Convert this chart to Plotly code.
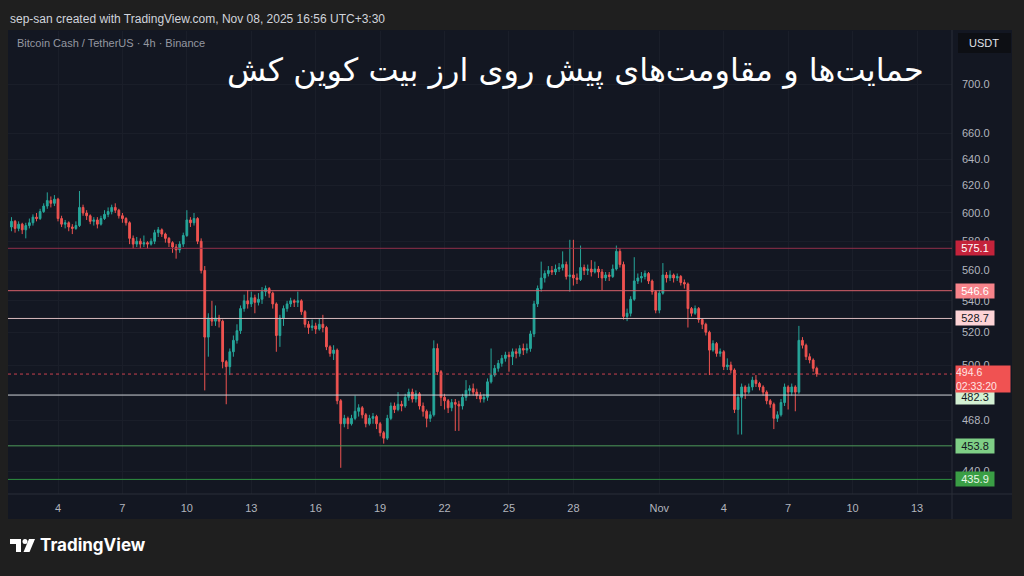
import math
import pandas as pd
import plotly.graph_objects as go

# ---------------- data (BCH/USDT, 4h candles) ----------------
times = pd.date_range("2025-10-01 20:00", periods=226, freq="4h")

first_open = 590
close = [
    594, 589, 592, 588, 591, 593, 597, 596, 601, 605,
    609, 607, 610, 596, 592, 593, 590, 589, 591, 604,
    600, 598, 594, 595, 592, 596, 599, 601, 604, 602,
    598, 596, 593, 582, 578, 580, 578, 579, 578, 580,
    586, 588, 585, 582, 579, 576, 574, 578, 584, 595,
    593, 596, 580, 560, 517, 529, 527, 529, 527, 502,
    499, 508, 515, 521, 535, 540, 538, 542, 539, 541,
    546, 548, 545, 538, 518, 529, 535, 538, 540, 539,
    540, 533, 525, 523, 524, 522, 525, 523, 511, 507,
    509, 479, 466, 469, 466, 469, 473, 475, 471, 466,
    469, 470, 466, 461, 458, 469, 476, 474, 477, 476,
    481, 484, 480, 483, 476, 473, 469, 471, 510, 496,
    481, 479, 475, 478, 477, 476, 481, 485, 486, 484,
    482, 480, 481, 490, 494, 498, 501, 504, 506, 505,
    508, 507, 510, 509, 510, 519, 538, 548, 555, 558,
    560, 559, 561, 562, 564, 556, 557, 555, 554, 562,
    560, 561, 559, 561, 559, 555, 557, 556, 561, 573,
    564, 530, 532, 541, 553, 555, 556, 558, 553, 546,
    534, 545, 557, 555, 557, 555, 556, 552, 551, 535,
    532, 535, 528, 525, 520, 509, 513, 507, 508, 499,
    500, 497, 474, 481, 487, 484, 487, 491, 489, 487,
    484, 479, 477, 469, 471, 478, 487, 484, 487, 484,
    515, 512, 505, 503, 498, 494.6,
]
high = [
    597, 595, 594, 593, 593, 596, 599, 600, 603, 607,
    615, 612, 613, 611, 598, 595, 594, 592, 594, 616,
    606, 602, 599, 597, 597, 598, 602, 604, 606, 607,
    603, 600, 597, 594, 584, 583, 582, 584, 580, 582,
    588, 590, 589, 586, 583, 580, 578, 580, 586, 602,
    597, 600, 597, 582, 563, 532, 540, 537, 531, 528,
    503, 510, 518, 525, 537, 544, 547, 546, 544, 545,
    549, 550, 549, 546, 539, 531, 537, 540, 542, 541,
    546, 541, 534, 527, 528, 526, 529, 531, 524, 512,
    512, 510, 480, 471, 470, 471, 482, 477, 476, 472,
    471, 472, 471, 467, 462, 471, 478, 478, 484, 479,
    483, 486, 486, 485, 484, 478, 474, 473, 515, 513,
    497, 483, 480, 480, 480, 479, 483, 491, 488, 489,
    486, 484, 483, 492, 510, 500, 503, 506, 508, 508,
    510, 510, 512, 513, 513, 521, 540, 550, 566, 560,
    563, 563, 564, 565, 573, 566, 581, 581, 558, 577,
    564, 564, 567, 566, 563, 561, 559, 559, 564, 577,
    575, 566, 535, 543, 569, 558, 559, 560, 559, 554,
    547, 547, 565, 559, 560, 558, 558, 557, 554, 552,
    536, 537, 536, 529, 526, 521, 515, 514, 510, 509,
    504, 502, 498, 483, 489, 488, 489, 493, 494, 490,
    488, 485, 480, 478, 473, 480, 489, 488, 489, 488,
    524, 517, 513, 507, 504, 499,
]
low = [
    587, 586, 587, 585, 582, 589, 591, 594, 595, 600,
    603, 604, 605, 594, 590, 589, 587, 585, 588, 590,
    598, 595, 592, 591, 589, 591, 595, 597, 599, 600,
    596, 593, 591, 578, 575, 576, 575, 576, 575, 577,
    578, 583, 583, 579, 576, 572, 568, 572, 576, 583,
    590, 591, 578, 558, 485, 505, 524, 524, 523, 498,
    477, 494, 505, 513, 519, 533, 535, 536, 532, 537,
    538, 543, 542, 535, 508, 511, 524, 533, 536, 536,
    536, 531, 523, 519, 521, 519, 521, 520, 509, 505,
    503, 477, 442, 464, 463, 465, 468, 470, 469, 464,
    465, 466, 463, 459, 455, 457, 468, 472, 473, 473,
    475, 479, 478, 478, 474, 470, 464, 467, 470, 494,
    476, 474, 472, 473, 462, 462, 474, 479, 482, 482,
    480, 478, 478, 479, 489, 493, 496, 499, 502, 496,
    500, 504, 505, 506, 507, 508, 517, 536, 546, 552,
    556, 557, 557, 559, 560, 554, 546, 550, 551, 553,
    557, 557, 556, 558, 555, 547, 553, 553, 555, 560,
    562, 528, 527, 530, 540, 551, 552, 554, 551, 544,
    532, 532, 544, 552, 553, 552, 553, 550, 548, 523,
    530, 531, 526, 522, 518, 494, 508, 505, 505, 497,
    497, 495, 472, 460, 460, 480, 483, 485, 487, 485,
    482, 477, 475, 463, 467, 470, 476, 474, 482, 473,
    483, 510, 503, 501, 496, 493,
]
open_ = [first_open] + close[:-1]

levels = [575.1, 546.6, 528.7, 482.3, 453.8, 435.9]
level_line_colors = ["#93304a", "#d9606b", "#d8b9be", "#cfd2d8", "#4e9c5a", "#2e9140"]
level_box_colors = ["#c4233b", "#f7838a", "#fdd3d6", "#d3f0d3", "#7fcf86", "#3a9e45"]
level_text_colors = ["#ffffff", "#ffffff", "#131722", "#131722", "#131722", "#e8f7e8"]

last_price = 494.6
countdown = "02:33:20"

price_ticks = [700, 660, 640, 620, 600, 580, 560, 540, 520, 500, 468, 440]
date_ticks = ["2025-10-04", "2025-10-07", "2025-10-10", "2025-10-13", "2025-10-16",
              "2025-10-19", "2025-10-22", "2025-10-25", "2025-10-28", "2025-11-01",
              "2025-11-04", "2025-11-07", "2025-11-10", "2025-11-13"]
date_labels = ["4", "7", "10", "13", "16", "19", "22", "25", "28", "Nov", "4", "7", "10", "13"]

title_text = "حمایت\u200cها و مقاومت\u200cهای پیش روی ارز بیت کوین کش"
header_text = "sep-san created with TradingView.com, Nov 08, 2025 16:56 UTC+3:30"
symbol_text = "Bitcoin Cash / TetherUS · 4h · Binance"

# ---------------- geometry helpers (layout decorations only) ----------------
W, H = 1024, 576
ML, MR, MT, MB = 8, 72, 31, 82
PW, PH = W - ML - MR, H - MT - MB


def px(xp):
    return (xp - ML) / PW


def py(yp):
    return (H - MB - yp) / PH


UP, DOWN = "#26a69a", "#ef5350"
PANEL = "#131722"
OUTER = "#1f1f1f"
AXIS_TXT = "#b2b5be"
FONT = "Liberation Sans"

fig = go.Figure()
fig.add_trace(go.Candlestick(
    x=times, open=open_, high=high, low=low, close=close,
    increasing=dict(line=dict(color=UP, width=1), fillcolor=UP),
    decreasing=dict(line=dict(color=DOWN, width=1), fillcolor=DOWN),
    whiskerwidth=0, hoverinfo="skip", showlegend=False,
))

shapes = []
# chart panel background
shapes.append(dict(type="rect", xref="paper", yref="paper", x0=px(8), x1=px(1012),
                   y0=py(519), y1=py(30), fillcolor=PANEL, line=dict(width=0), layer="below"))
# axis separators
shapes.append(dict(type="line", xref="paper", yref="paper", x0=1, x1=1, y0=py(519), y1=py(30),
                   line=dict(color="#2a2e39", width=1), layer="above"))
shapes.append(dict(type="line", xref="paper", yref="paper", x0=0, x1=px(1012), y0=0, y1=0,
                   line=dict(color="#2a2e39", width=1), layer="above"))
# USDT box
shapes.append(dict(type="rect", xref="paper", yref="paper", x0=px(958), x1=px(1011),
                   y0=py(53), y1=py(33), fillcolor="#0d0f14", line=dict(width=0), layer="above"))
# level lines
for lv, lc in zip(levels, level_line_colors):
    shapes.append(dict(type="line", xref="paper", yref="y", x0=0, x1=1, y0=lv, y1=lv,
                       line=dict(color=lc, width=1), layer="above"))
# last price dotted line
shapes.append(dict(type="line", xref="paper", yref="y", x0=0, x1=1, y0=last_price, y1=last_price,
                   line=dict(color="#c8414f", width=1, dash="dot"), layer="above"))


# TradingView logo glyph (footer decoration)
def ppath(points):
    return "M " + " L ".join(f"{px(a)},{py(b)}" for a, b in points) + " Z"


shapes.append(dict(type="path", xref="paper", yref="paper",
                   path=ppath([(10, 539), (21, 539), (21, 552), (16, 552), (16, 544), (10, 544)]),
                   fillcolor="#ffffff", line=dict(width=0)))
shapes.append(dict(type="circle", xref="paper", yref="paper", x0=px(22.5), x1=px(27.5),
                   y0=py(544), y1=py(539), fillcolor="#ffffff", line=dict(width=0)))
shapes.append(dict(type="path", xref="paper", yref="paper",
                   path=ppath([(29, 539), (35, 539), (29.5, 552), (23.5, 552)]),
                   fillcolor="#ffffff", line=dict(width=0)))

annotations = []
annotations.append(dict(text=header_text, xref="paper", yref="paper", x=px(8), y=py(19),
                        xanchor="left", yanchor="middle", showarrow=False,
                        font=dict(family=FONT, size=12, color="#d1d4dc")))
annotations.append(dict(text=symbol_text, xref="paper", yref="paper", x=px(15), y=py(43),
                        xanchor="left", yanchor="middle", showarrow=False,
                        font=dict(family=FONT, size=11, color="#9598a1")))
annotations.append(dict(text=title_text, xref="paper", yref="paper",
                        x=px(926), y=py(70), xanchor="right", yanchor="middle", showarrow=False,
                        font=dict(family="DejaVu Sans", size=32, color="#ffffff")))
annotations.append(dict(text="USDT", xref="paper", yref="paper", x=px(984.5), y=py(43),
                        xanchor="center", yanchor="middle", showarrow=False,
                        font=dict(family=FONT, size=11, color="#e0e3eb")))
annotations.append(dict(text="<b>TradingView</b>", xref="paper", yref="paper", x=px(38), y=py(545),
                        xanchor="left", yanchor="middle", showarrow=False,
                        font=dict(family="Inter", size=17, color="#ffffff")))
for lv, bc, tc in zip(levels, level_box_colors, level_text_colors):
    annotations.append(dict(text=f"{lv:.1f}", xref="paper", yref="y", x=px(955), y=math.log10(lv),
                            xanchor="left", yanchor="middle", showarrow=False, bgcolor=bc,
                            width=38, height=14, borderpad=0, align="center",
                            yshift=-2 if lv == 482.3 else 0,
                            font=dict(family=FONT, size=11, color=tc)))
# current price label drawn last so it sits on top
annotations.append(dict(text=f"{last_price:.1f}<br>{countdown}", xref="paper", yref="y", x=px(955),
                        y=math.log10(last_price), yshift=-5, xanchor="left", yanchor="middle",
                        showarrow=False, bgcolor="#f05252", width=54, height=26, borderpad=0,
                        align="left", valign="middle",
                        font=dict(family=FONT, size=10.5, color="#ffe4e4")))

fig.update_layout(
    width=W, height=H,
    margin=dict(l=ML, r=MR, t=MT, b=MB),
    paper_bgcolor=OUTER, plot_bgcolor=PANEL,
    shapes=shapes, annotations=annotations,
    showlegend=False, hovermode=False,
    xaxis=dict(type="date", range=["2025-10-01 16:07", "2025-11-14 15:07"],
               tickvals=date_ticks, ticktext=date_labels, ticks="", showline=False,
               showgrid=True, gridcolor="#1a1e29", gridwidth=1, zeroline=False,
               tickfont=dict(family=FONT, size=11, color=AXIS_TXT),
               ticklabelstandoff=6, rangeslider=dict(visible=False), fixedrange=True),
    yaxis=dict(type="log", range=[2.63178, 2.87293], side="right",
               tickvals=price_ticks, ticktext=[f"{v:.1f}" for v in price_ticks], ticks="",
               showgrid=True, gridcolor="#1a1e29", gridwidth=1, zeroline=False, showline=False,
               tickfont=dict(family=FONT, size=11, color=AXIS_TXT),
               ticklabelstandoff=9, fixedrange=True),
)

fig.write_html(
    "out.html",
    config={"displayModeBar": False},
    post_script=(
        "document.body.style.margin='0';"
        "document.body.style.background='#1f1f1f';"
        "document.documentElement.style.overflow='hidden';"
    ),
)
